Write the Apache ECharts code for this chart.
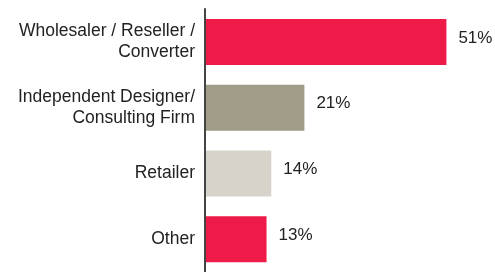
<!DOCTYPE html>
<html>
<head>
<meta charset="utf-8">
<script src="https://cdn.jsdelivr.net/npm/echarts@6/dist/echarts.min.js"></script>
<style>
  html, body { margin: 0; padding: 0; background: #fff; }
  #chart { width: 495px; height: 272px; }
</style>
</head>
<body>
<div id="chart"></div>
<script>
const categories = [
  "Wholesaler / Reseller /\nConverter",
  "Independent Designer/\nConsulting Firm",
  "Retailer",
  "Other"
]
const shares = [51, 21, 14, 13]
const barColors = ["#ee1a47", "#a19c88", "#d6d3cb", "#ee1a47"]

const chart = echarts.init(document.getElementById("chart"))

chart.setOption({
  animation: false,
  grid: { left: 205, right: 6, top: 9, bottom: 0 },
  xAxis: {
    type: "value",
    min: 0,
    max: 60,
    show: false
  },
  yAxis: {
    type: "category",
    data: categories,
    inverse: true,
    z: 3,
    axisLine: { show: true, lineStyle: { color: "#444", width: 2 } },
    axisTick: { show: false },
    axisLabel: {
      margin: 10,
      color: "#222",
      fontFamily: "Liberation Sans, Arial, sans-serif",
      fontSize: 17.5,
      lineHeight: 21,
      align: "right",
      padding: [4, 0, 0, 0]
    }
  },
  series: [
    {
      type: "bar",
      barWidth: 46,
      data: shares.map((v, i) => ({ value: v, itemStyle: { color: barColors[i] } })),
      label: {
        show: true,
        position: "right",
        distance: 12,
        offset: [0, -4],
        formatter: "{c}%",
        color: "#222",
        fontFamily: "Liberation Sans, Arial, sans-serif",
        fontSize: 17
      }
    }
  ]
})
</script>
</body>
</html>
